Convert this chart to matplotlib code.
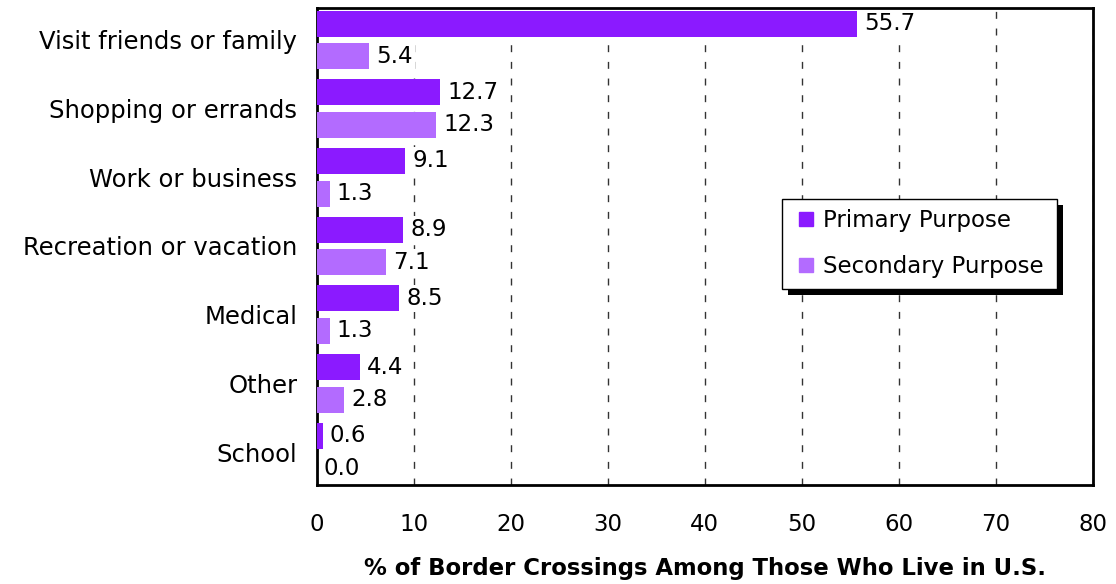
import matplotlib
matplotlib.use("Agg")
import matplotlib.pyplot as plt
from matplotlib.lines import Line2D
from matplotlib.patches import Rectangle
import numpy as np

categories = ["Visit friends or family", "Shopping or errands", "Work or business",
              "Recreation or vacation", "Medical", "Other", "School"]
primary = [55.7, 12.7, 9.1, 8.9, 8.5, 4.4, 0.6]
secondary = [5.4, 12.3, 1.3, 7.1, 1.3, 2.8, 0.0]
series_names = ["Primary Purpose", "Secondary Purpose"]
x_ticks = [0, 10, 20, 30, 40, 50, 60, 70, 80]
x_label = "% of Border Crossings Among Those Who Live in U.S."

c_primary = "#8B1AFF"
c_secondary = "#B36BFF"
FS = 16.5

plt.rcParams['font.family'] = ['DejaVu Sans']
fig = plt.figure(figsize=(11.16, 5.84), dpi=100)
ax = fig.add_axes([0.284, 0.1695, 0.695, 0.817])

y = np.arange(len(categories))
off = 0.237
h = 0.378
b1 = ax.barh(y - off, primary, height=h, color=c_primary, zorder=3)
b2 = ax.barh(y + off, secondary, height=h, color=c_secondary, zorder=3)
for bars in (b1, b2):
    labs = ax.bar_label(bars, fmt="%.1f", padding=5, fontsize=FS, zorder=6)
    for t in labs:
        t.set_bbox(dict(facecolor="white", edgecolor="none", pad=1.5))

ax.set_xlim(0, 80)
ax.set_ylim(6.48, -0.466)
ax.set_xticks(x_ticks)
ax.set_xticklabels([str(v) for v in x_ticks], fontsize=FS)
ax.set_yticks(y)
ax.set_yticklabels(categories, fontsize=17.5)
ax.tick_params(axis="x", length=0, pad=20)
ax.tick_params(axis="y", length=0, pad=14)
ax.xaxis.grid(True, linestyle=(0, (5, 7)), color="#333333", linewidth=1.0, zorder=0)
ax.set_axisbelow(True)
for s in ax.spines.values():
    s.set_linewidth(2)
    s.set_color("black")
ax.set_xlabel(x_label, fontsize=16.4, fontweight="bold", labelpad=15.5)

handles = [Line2D([], [], marker="s", linestyle="none", markersize=10, color=c_primary),
           Line2D([], [], marker="s", linestyle="none", markersize=10, color=c_secondary)]
leg = ax.legend(handles, series_names, loc="center", bbox_to_anchor=(0.599, 0.407, 0.355, 0.197),
                mode="expand", borderaxespad=0, fontsize=FS, frameon=True, fancybox=False,
                edgecolor="black", framealpha=1, labelspacing=1.0, handletextpad=0.15,
                handlelength=1.2, borderpad=0.45)
leg.get_frame().set_linewidth(1.0)
leg.set_zorder(10)

fig.canvas.draw()
bb = leg.get_window_extent().transformed(ax.transAxes.inverted())
dx = 6 / ax.get_window_extent().width
dy = 6 / ax.get_window_extent().height
shadow = Rectangle((bb.x0 + dx, bb.y0 - dy), bb.width, bb.height, transform=ax.transAxes,
                   facecolor="black", edgecolor="none", zorder=9, clip_on=False)
ax.add_patch(shadow)

fig.savefig("out.png", dpi=100)
